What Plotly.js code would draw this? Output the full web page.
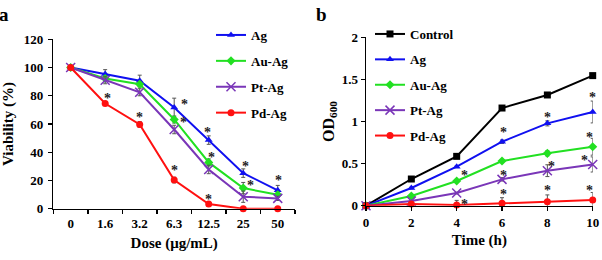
<!DOCTYPE html>
<html>
<head>
<meta charset="utf-8">
<script src="https://cdn.plot.ly/plotly-3.0.1.min.js"></script>
<style>
  html, body { margin: 0; padding: 0; background: #ffffff; }
  #chart { width: 602px; height: 260px; }
</style>
</head>
<body>
<div id="chart"></div>
<script>
// Panel a: cell viability vs. nanoparticle dose
const doses = ['0', '1.6', '3.2', '6.3', '12.5', '25', '50'];
const viabAg      = [100, 95.5, 90.6, 71.7, 48.6, 25.2, 13.0];
const viabAgErr   = [0, 3, 4, 6.6, 3, 3, 3.5];
const viabAuAg    = [100, 92.2, 88.2, 63.2, 32.8, 14.6, 9.9];
const viabAuAgErr = [0, 2, 2, 2.5, 2.5, 4, 2];
const viabPtAg    = [100, 91.0, 82.5, 56.1, 27.8, 8.5, 7.3];
const viabPtAgErr = [0, 2.5, 2.5, 3, 3, 4, 1.5];
const viabPdAg    = [100, 74.5, 59.7, 20.3, 3.3, 0, 0];
const viabPdAgErr = [0, 1, 2, 2, 1, 0, 0];

// Panel b: bacterial growth (OD600) vs. time
const hours = [0, 2, 4, 6, 8, 10];
const odControl  = [0, 0.317, 0.586, 1.16, 1.315, 1.545];
const odAg       = [0, 0.21, 0.463, 0.76, 0.978, 1.113];
const odAgErr    = [0, 0.01, 0.01, 0.02, 0.03, 0.13];
const odAuAg     = [0, 0.115, 0.293, 0.531, 0.622, 0.70];
const odAuAgErr  = [0, 0.01, 0.01, 0.015, 0.03, 0.10];
const odPtAg     = [0, 0.055, 0.15, 0.313, 0.416, 0.49];
const odPtAgErr  = [0, 0.01, 0.01, 0.02, 0.07, 0.09];
const odPdAg     = [0, 0.02, 0.008, 0.028, 0.048, 0.067];
const odPdAgErr  = [0, 0.01, 0.055, 0.067, 0.08, 0.09];

const SERIF = 'Liberation Serif, Times New Roman, serif';
const COLORS = {
  Control: '#000000',
  Ag: '#1010f0',
  'Au-Ag': '#22e022',
  'Pt-Ag': '#7a36b8',
  'Pd-Ag': '#ff1010'
};
const SYMBOLS = {
  Control: 'square',
  Ag: 'triangle-up',
  'Au-Ag': 'diamond',
  'Pt-Ag': 'x-thin-open',
  'Pd-Ag': 'circle'
};

function series(name, x, y, err, xa, ya, legend) {
  const tr = {
    type: 'scatter',
    mode: 'lines+markers',
    name: name,
    x: x,
    y: y,
    xaxis: xa,
    yaxis: ya,
    legend: legend,
    legendgroup: legend + name,
    cliponaxis: false,
    line: { color: COLORS[name], width: 2 },
    marker: {
      symbol: SYMBOLS[name],
      color: COLORS[name],
      size: name === 'Pt-Ag' ? 9 : 7,
      line: { color: COLORS[name], width: name === 'Pt-Ag' ? 1.5 : 0 }
    }
  };
  if (err) {
    tr.error_y = { type: 'data', array: err, visible: true, color: '#555555', thickness: 1, width: 2 };
  }
  return tr;
}

const traces = [
  series('Ag', doses, viabAg, viabAgErr, 'x', 'y', 'legend'),
  series('Au-Ag', doses, viabAuAg, viabAuAgErr, 'x', 'y', 'legend'),
  series('Pt-Ag', doses, viabPtAg, viabPtAgErr, 'x', 'y', 'legend'),
  series('Pd-Ag', doses, viabPdAg, viabPdAgErr, 'x', 'y', 'legend'),
  series('Control', hours, odControl, null, 'x2', 'y2', 'legend2'),
  series('Ag', hours, odAg, odAgErr, 'x2', 'y2', 'legend2'),
  series('Au-Ag', hours, odAuAg, odAuAgErr, 'x2', 'y2', 'legend2'),
  series('Pt-Ag', hours, odPtAg, odPtAgErr, 'x2', 'y2', 'legend2'),
  series('Pd-Ag', hours, odPdAg, odPdAgErr, 'x2', 'y2', 'legend2')
];

// Significance asterisks: [x, y, dx(px), dy(px)] placed beside the marked points.
// On the category axis the x position is the category index.
const starsA = [
  [1, viabPdAg[1], 2, 7], [2, viabPdAg[2], 0, 9],
  [3, viabPdAg[3], 0, 12], [4, viabPdAg[4], 0, 7],
  [3, viabAg[3], 10, 5], [4, viabAg[4], -1, 10],
  [5, viabAg[5], 2, 9], [6, viabAg[6], 1, 12],
  [3, viabAuAg[3], 9, -1], [4, viabAuAg[4], 3, 7],
  [5, viabAuAg[5], 7, 5]
];
const starsB = [
  [hours[3], odAg[3], 1, 11], [hours[4], odAg[4], 0, 8], [hours[5], odAg[5], 0, 16],
  [hours[2], odAuAg[2], 8, 8], [hours[5], odAuAg[5], -3, 11],
  [hours[3], odPtAg[3], 1, 6], [hours[4], odPtAg[4], 4, 6], [hours[5], odPtAg[5], -8, 6],
  [hours[2], odPdAg[2], 8, 3], [hours[3], odPdAg[3], 1, 11],
  [hours[4], odPdAg[4], 0, 13], [hours[5], odPdAg[5], -3, 12]
];

const annotations = [];
function addStars(list, xref, yref) {
  list.forEach(function (s) {
    annotations.push({
      x: s[0], y: s[1], xref: xref, yref: yref,
      xshift: s[2], yshift: s[3] - 2,
      text: '*', showarrow: false,
      font: { family: SERIF, size: 14, color: '#222222', weight: 'bold' }
    });
  });
}
addStars(starsA, 'x', 'y');
addStars(starsB, 'x2', 'y2');

annotations.push({
  text: 'a', xref: 'paper', yref: 'paper', x: 4 / 602, y: 1 - 14 / 260,
  xanchor: 'center', yanchor: 'middle', showarrow: false,
  font: { family: SERIF, size: 19, color: '#000', weight: 'bold' }
});
annotations.push({
  text: 'b', xref: 'paper', yref: 'paper', x: 322 / 602, y: 1 - 14 / 260,
  xanchor: 'center', yanchor: 'middle', showarrow: false,
  font: { family: SERIF, size: 19, color: '#000', weight: 'bold' }
});

const tickFont = { family: SERIF, size: 13, color: '#000', weight: 'bold' };
const titleFont = { family: SERIF, size: 15, color: '#000', weight: 'bold' };
const legendFont = { family: SERIF, size: 13, color: '#000', weight: 'bold' };

const axisCommon = {
  showgrid: false,
  zeroline: false,
  showline: true,
  linecolor: '#000',
  linewidth: 1.5,
  ticks: 'outside',
  ticklen: 4,
  tickwidth: 1.2,
  tickcolor: '#000',
  tickfont: tickFont
};

const layout = {
  width: 602,
  height: 260,
  margin: { l: 0, r: 0, t: 0, b: 0 },
  paper_bgcolor: '#ffffff',
  plot_bgcolor: '#ffffff',
  showlegend: true,
  xaxis: Object.assign({}, axisCommon, {
    domain: [53.4 / 602, 295 / 602],
    anchor: 'y',
    type: 'category',
    range: [-0.5, 6.5],
    tickson: 'boundaries',
    ticklabelstandoff: 2,
    title: { text: 'Dose (μg/mL)', font: titleFont, standoff: 7 }
  }),
  yaxis: Object.assign({}, axisCommon, {
    domain: [(260 - 208.7) / 260, (260 - 39.3) / 260],
    anchor: 'x',
    range: [0, 120],
    tickvals: [0, 20, 40, 60, 80, 100, 120],
    ticklabelstandoff: 2,
    title: { text: 'Viability (%)', font: titleFont, standoff: 7 }
  }),
  xaxis2: Object.assign({}, axisCommon, {
    domain: [366 / 602, 592.7 / 602],
    anchor: 'y2',
    range: [0, 10],
    tickvals: hours,
    title: { text: 'Time (h)', font: titleFont, standoff: 5 }
  }),
  yaxis2: Object.assign({}, axisCommon, {
    domain: [(260 - 205.7) / 260, (260 - 37.3) / 260],
    anchor: 'x2',
    range: [0, 2],
    tickvals: [0, 0.5, 1, 1.5, 2],
    ticktext: ['0', '0.5', '1', '1.5', '2'],
    title: { text: 'OD<sub>600</sub>', font: { family: SERIF, size: 16, color: '#000', weight: 'bold' }, standoff: 3 }
  }),
  legend: {
    x: 211 / 602, y: 1 - 20 / 260, xanchor: 'left', yanchor: 'top',
    bgcolor: 'rgba(0,0,0,0)', borderwidth: 0,
    font: legendFont, traceorder: 'grouped', tracegroupgap: 6
  },
  legend2: {
    x: 370 / 602, y: 1 - 19 / 260, xanchor: 'left', yanchor: 'top',
    bgcolor: 'rgba(0,0,0,0)', borderwidth: 0,
    font: legendFont, traceorder: 'grouped', tracegroupgap: 5.5
  },
  annotations: annotations
};

Plotly.newPlot('chart', traces, layout, { staticPlot: true, displayModeBar: false });
</script>
</body>
</html>
